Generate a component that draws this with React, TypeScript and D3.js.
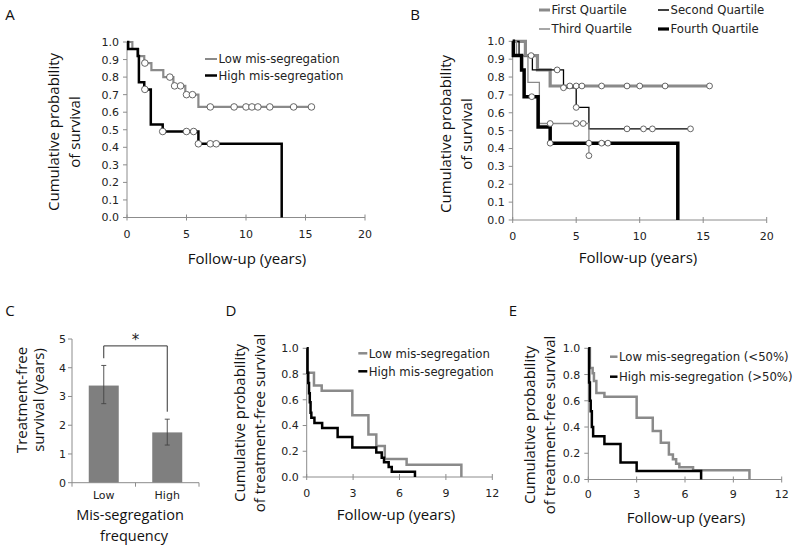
import React from 'react';
import * as d3 from 'd3';

// ---------- DATA ----------
// Panel A (overall survival by mis-segregation)
const aLowSteps = [[0, 1.0], [0.45, 0.96], [0.95, 0.92], [1.45, 0.88], [2.05, 0.84], [3.05, 0.80], [3.9, 0.75], [4.9, 0.70], [6.0, 0.63]];
const aLowEnd = 15.5;
const aLowCensor = [[1.5, 0.88], [3.6, 0.80], [4.0, 0.75], [4.5, 0.75], [5.0, 0.70], [5.5, 0.70], [7.0, 0.63], [9.0, 0.63], [10.0, 0.63], [10.5, 0.63], [11.0, 0.63], [12.0, 0.63], [14.0, 0.63], [15.5, 0.63]];
const aHighSteps = [[0, 1.0], [0.1, 0.96], [0.9, 0.92], [1.0, 0.77], [1.45, 0.73], [2.0, 0.53], [3.0, 0.49], [6.0, 0.42], [13.0, 0.0]];
const aHighEnd = 13.0;
const aHighCensor = [[1.5, 0.73], [3.0, 0.49], [5.0, 0.49], [5.6, 0.49], [6.0, 0.42], [7.0, 0.42], [7.5, 0.42]];
const aLegend = ['Low mis-segregation', 'High mis-segregation'];

// Panel B (quartiles)
const bQ1Steps = [[0, 1.0], [1.0, 0.92], [1.95, 0.84], [2.95, 0.75]];
const bQ1End = 15.5;
const bQ1Censor = [[4.5, 0.75], [5.0, 0.75], [5.45, 0.75], [7.0, 0.75], [9.0, 0.75], [10.0, 0.75], [12.0, 0.75], [15.5, 0.75]];
const bQ2Steps = [[0, 1.0], [0.5, 0.92], [1.55, 0.84], [4.0, 0.74], [5.0, 0.63], [6.0, 0.51]];
const bQ2End = 14.0;
const bQ2Censor = [[1.45, 0.92], [3.5, 0.84], [4.0, 0.74], [5.0, 0.63], [9.0, 0.51], [10.3, 0.51], [11.0, 0.51], [14.0, 0.51]];
const bQ3Steps = [[0, 1.0], [0.3, 0.92], [1.2, 0.77], [2.1, 0.54], [6.0, 0.36]];
const bQ3End = 6.0;
const bQ3Censor = [[2.95, 0.54], [5.0, 0.54], [5.55, 0.54], [6.0, 0.36]];
const bQ4Steps = [[0, 1.0], [0.05, 0.92], [0.7, 0.84], [0.9, 0.69], [2.0, 0.52], [2.95, 0.43], [13.0, 0.0]];
const bQ4End = 13.0;
const bQ4Censor = [[1.5, 0.69], [2.95, 0.43], [6.0, 0.43], [7.0, 0.43], [7.5, 0.43]];
const bLegend = ['First Quartile', 'Second Quartile', 'Third Quartile', 'Fourth Quartile'];

// Panel C (bar chart)
const cCategories = ['Low', 'High'];
const cValues = [3.38, 1.75];
const cErrLow = [2.75, 1.31];
const cErrHigh = [4.08, 2.21];
const cBracket = [4.33, 4.76, 2.47]; // left start, top, right end
const cTicks = [0, 1, 2, 3, 4, 5];

// Panel D (treatment-free survival)
const dLowSteps = [[0, 1.0], [0.05, 0.81], [0.47, 0.71], [0.97, 0.67], [2.95, 0.48], [3.99, 0.33], [4.5, 0.24], [5.05, 0.14], [6.46, 0.095], [10.0, 0.0]];
const dLowEnd = 10.0;
const dHighSteps = [[0, 1.0], [0.05, 0.81], [0.1, 0.73], [0.15, 0.65], [0.2, 0.58], [0.25, 0.5], [0.3, 0.46], [0.5, 0.42], [1.0, 0.38], [2.0, 0.31], [2.95, 0.23], [4.5, 0.19], [4.85, 0.15], [5.0, 0.115], [5.3, 0.077], [5.5, 0.04], [7.0, 0.0]];
const dHighEnd = 7.0;
const dLegend = ['Low mis-segregation', 'High mis-segregation'];

// Panel E (treatment-free survival, 50% cut)
const eLowSteps = [[0, 1.0], [0.1, 0.85], [0.27, 0.81], [0.35, 0.75], [0.5, 0.66], [1.0, 0.63], [3.0, 0.47], [4.0, 0.37], [4.5, 0.28], [5.0, 0.19], [5.25, 0.155], [5.45, 0.12], [5.65, 0.094], [6.5, 0.07], [10.0, 0.0]];
const eLowEnd = 10.0;
const eHighSteps = [[0, 1.0], [0.05, 0.74], [0.1, 0.6], [0.15, 0.52], [0.22, 0.4], [0.3, 0.33], [1.0, 0.27], [2.0, 0.13], [3.0, 0.065], [7.0, 0.0]];
const eHighEnd = 7.0;
const eLegend = ['Low mis-segregation (<50%)', 'High mis-segregation (>50%)'];

const ticksSurvA = [0, 0.1, 0.2, 0.3, 0.4, 0.5, 0.6, 0.7, 0.8, 0.9, 1.0];
const ticksYearsA = [0, 5, 10, 15, 20];
const ticksSurvD = [0, 0.2, 0.4, 0.6, 0.8, 1.0];
const ticksYearsD = [0, 3, 6, 9, 12];

// ---------- STYLE ----------
const TICK_FONT = "'DejaVu Sans', Verdana, sans-serif";
const TITLE_FONT = "'Open Sans', 'Noto Sans', sans-serif";
const GRAY = '#8a8a8a';
const AXIS = '#8c8c8c';
const TXT = '#222';

type Pt = number[];
type Series = { steps: Pt[]; end: number; censor?: Pt[]; color: string; width: number };

function stepPath(x: any, y: any, steps: Pt[], end: number) {
  let d = `M${x(steps[0][0])},${y(steps[0][1])}`;
  for (let i = 1; i < steps.length; i++) {
    d += `H${x(steps[i][0])}V${y(steps[i][1])}`;
  }
  d += `H${x(end)}`;
  return d;
}

function KMPanel(props: {
  xr: number[]; yr: number[]; xTicks: number[]; yTicks: number[];
  series: Series[]; r: number; xLabelDy: number;
}) {
  const { xr, yr, xTicks, yTicks, series, r, xLabelDy } = props;
  const x = d3.scaleLinear().domain([xTicks[0], xTicks[xTicks.length - 1]]).range(xr);
  const y = d3.scaleLinear().domain([0, 1]).range(yr);
  const fmt = d3.format('.1f');
  return (
    <g>
      <line x1={x(xTicks[0])} x2={x(xTicks[0])} y1={y(0)} y2={y(1)} stroke={AXIS} strokeWidth={1} />
      <line x1={x(xTicks[0])} x2={x(xTicks[xTicks.length - 1])} y1={y(0)} y2={y(0)} stroke={AXIS} strokeWidth={1} />
      {yTicks.map((t) => (
        <g key={'y' + t}>
          <line x1={x(xTicks[0]) - 4} x2={x(xTicks[0])} y1={y(t)} y2={y(t)} stroke={AXIS} />
          <text x={x(xTicks[0]) - 8} y={y(t)} dy="0.36em" textAnchor="end" fontFamily={TICK_FONT} fontSize={11} fill={TXT}>{fmt(t)}</text>
        </g>
      ))}
      {xTicks.map((t) => (
        <g key={'x' + t}>
          <line x1={x(t)} x2={x(t)} y1={y(0) - 3} y2={y(0) + 3} stroke={AXIS} />
          <text x={x(t)} y={y(0) + xLabelDy} textAnchor="middle" fontFamily={TICK_FONT} fontSize={11} fill={TXT}>{t}</text>
        </g>
      ))}
      {series.map((s, i) => (
        <path key={'p' + i} d={stepPath(x, y, s.steps, s.end)} fill="none" stroke={s.color} strokeWidth={s.width} strokeLinejoin="miter" strokeLinecap="butt" />
      ))}
      {series.map((s, i) => (s.censor || []).map((c, j) => (
        <circle key={'c' + i + '-' + j} cx={x(c[0])} cy={y(c[1])} r={r} fill="#fff" stroke="#555" strokeWidth={0.9} />
      )))}
    </g>
  );
}

function Legend(props: { x: number; y: number; dy: number; items: string[]; colors: string[]; widths: number[]; len: number }) {
  const { x, y, dy, items, colors, widths, len } = props;
  return (
    <g>
      {items.map((it, i) => (
        <g key={it}>
          <line x1={x} x2={x + len} y1={y + i * dy} y2={y + i * dy} stroke={colors[i]} strokeWidth={widths[i]} />
          <text x={x + len + 1.5} y={y + i * dy} dy="0.36em" fontFamily={TICK_FONT} fontSize={11.7} fill={TXT}>{it}</text>
        </g>
      ))}
    </g>
  );
}

function YTitle(props: { x: number; y: number; lines: string[]; gap: number; size?: number }) {
  const { x, y, lines, gap, size = 15 } = props;
  return (
    <g>
      {lines.map((l, i) => (
        <text key={l} transform={`translate(${x + i * gap},${y}) rotate(-90)`} textAnchor="middle" fontFamily={TITLE_FONT} fontSize={size} fill="#111">{l}</text>
      ))}
    </g>
  );
}

function Title(props: { x: number; y: number; text: string; size?: number }) {
  return <text x={props.x} y={props.y} textAnchor="middle" fontFamily={TITLE_FONT} fontSize={props.size || 15} fill="#111">{props.text}</text>;
}

function BarPanel() {
  const x = d3.scaleBand().domain(cCategories).range([72, 199]).paddingInner(0).paddingOuter(0);
  const y = d3.scaleLinear().domain([0, 5]).range([482.7, 339]);
  const bw = 30;
  const cx = (c: string) => (x(c) as number) + x.bandwidth() / 2;
  const xl = cx(cCategories[0]);
  const xh = cx(cCategories[1]);
  return (
    <g>
      {cCategories.map((c, i) => (
        <rect key={c} x={cx(c) - bw / 2} y={y(cValues[i])} width={bw} height={y(0) - y(cValues[i])} fill="#7f7f7f" />
      ))}
      {cCategories.map((c, i) => (
        <g key={'e' + c} stroke="#444" strokeWidth={0.9}>
          <line x1={cx(c)} x2={cx(c)} y1={y(cErrLow[i])} y2={y(cErrHigh[i])} />
          <line x1={cx(c) - 2.5} x2={cx(c) + 2.5} y1={y(cErrLow[i])} y2={y(cErrLow[i])} />
          <line x1={cx(c) - 2.5} x2={cx(c) + 2.5} y1={y(cErrHigh[i])} y2={y(cErrHigh[i])} />
        </g>
      ))}
      <path d={`M${xl},${y(cBracket[0])}V${y(cBracket[1])}H${xh}V${y(cBracket[2])}`} fill="none" stroke="#333" strokeWidth={1} />
      <text x={(xl + xh) / 2} y={y(cBracket[1]) - 1} textAnchor="middle" fontFamily={TICK_FONT} fontSize={15} fill="#222">*</text>
      <line x1={72} x2={72} y1={y(0)} y2={y(5)} stroke={AXIS} />
      <line x1={72} x2={199} y1={y(0)} y2={y(0)} stroke={AXIS} />
      {cTicks.map((t) => (
        <g key={t}>
          <line x1={68} x2={72} y1={y(t)} y2={y(t)} stroke={AXIS} />
          <text x={66} y={y(t)} dy="0.36em" textAnchor="end" fontFamily={TICK_FONT} fontSize={11} fill={TXT}>{t}</text>
        </g>
      ))}
      {[72, 72 + x.bandwidth(), 199].map((t) => (
        <line key={t} x1={t} x2={t} y1={y(0)} y2={y(0) + 4} stroke={AXIS} />
      ))}
      {cCategories.map((c) => (
        <text key={'l' + c} x={cx(c)} y={y(0) + 16.5} textAnchor="middle" fontFamily={TICK_FONT} fontSize={11} fill={TXT}>{c}</text>
      ))}
    </g>
  );
}

export default function App() {
  return (
    <svg width={800} height={551} viewBox="0 0 800 551" style={{ position: 'absolute', left: 0, top: 0, background: '#fff' }}>
      <rect width={800} height={551} fill="#fff" />
      {/* Panel letters */}
      {[['A', 10, 20], ['B', 415, 20], ['C', 10, 316], ['D', 231, 316], ['E', 513, 316]].map((p) => (
        <text key={p[0] as string} x={p[1] as number} y={p[2] as number} textAnchor="middle" fontFamily={TITLE_FONT} fontSize={15} fill="#111">{p[0]}</text>
      ))}

      {/* Panel A */}
      <KMPanel xr={[127, 365]} yr={[217.5, 42]} xTicks={ticksYearsA} yTicks={ticksSurvA} r={3.3} xLabelDy={20}
        series={[
          { steps: aLowSteps, end: aLowEnd, censor: aLowCensor, color: GRAY, width: 2.2 },
          { steps: aHighSteps, end: aHighEnd, censor: aHighCensor, color: '#000', width: 2.5 },
        ]} />
      <Legend x={205} y={59} dy={16.5} items={aLegend} colors={[GRAY, '#000']} widths={[2, 2.5]} len={12} />
      <YTitle x={58.5} y={132} lines={['Cumulative probability', 'of survival']} gap={21} />
      <Title x={247} y={264} text="Follow-up (years)" />

      {/* Panel B */}
      <KMPanel xr={[512.7, 766.7]} yr={[220, 41.3]} xTicks={ticksYearsA} yTicks={ticksSurvA} r={2.9} xLabelDy={20}
        series={[
          { steps: bQ1Steps, end: bQ1End, censor: bQ1Censor, color: GRAY, width: 3.2 },
          { steps: bQ2Steps, end: bQ2End, censor: bQ2Censor, color: '#000', width: 1.3 },
          { steps: bQ3Steps, end: bQ3End, censor: bQ3Censor, color: GRAY, width: 1.3 },
          { steps: bQ4Steps, end: bQ4End, censor: bQ4Censor, color: '#000', width: 3.5 },
        ]} />
      <Legend x={539} y={10} dy={19} items={[bLegend[0], bLegend[2]]} colors={[GRAY, GRAY]} widths={[3, 1.5]} len={11} />
      <Legend x={658} y={10} dy={19} items={[bLegend[1], bLegend[3]]} colors={['#000', '#000']} widths={[1.5, 3.2]} len={11} />
      <YTitle x={450.5} y={134} lines={['Cumulative probability', 'of survival']} gap={21} />
      <Title x={638} y={263} text="Follow-up (years)" />

      {/* Panel C */}
      <BarPanel />
      <YTitle x={27} y={400} lines={['Treatment-free', 'survival (years)']} gap={16.5} />
      <Title x={130} y={520} text="Mis-segregation" size={14.5} />
      <Title x={134} y={540.5} text="frequency" size={14.5} />

      {/* Panel D */}
      <KMPanel xr={[306.7, 492.3]} yr={[477, 348.3]} xTicks={ticksYearsD} yTicks={ticksSurvD} r={3} xLabelDy={19.5}
        series={[
          { steps: dLowSteps, end: dLowEnd, color: GRAY, width: 2.5 },
          { steps: dHighSteps, end: dHighEnd, color: '#000', width: 2.5 },
        ]} />
      <Legend x={358.3} y={353.3} dy={18} items={dLegend} colors={[GRAY, '#000']} widths={[2.5, 2.5]} len={9} />
      <YTitle x={245} y={423} lines={['Cumulative probability', 'of treatment-free survival']} gap={20} />
      <Title x={396} y={520} text="Follow-up (years)" />

      {/* Panel E */}
      <KMPanel xr={[588.3, 781.7]} yr={[479.5, 348.3]} xTicks={ticksYearsD} yTicks={ticksSurvD} r={3} xLabelDy={18.5}
        series={[
          { steps: eLowSteps, end: eLowEnd, color: GRAY, width: 2.5 },
          { steps: eHighSteps, end: eHighEnd, color: '#000', width: 2.5 },
        ]} />
      <Legend x={610} y={356.7} dy={20} items={eLegend} colors={[GRAY, '#000']} widths={[2.5, 2.5]} len={7.5} />
      <YTitle x={535} y={425} lines={['Cumulative probability', 'of treatment-free survival']} gap={20} />
      <Title x={686} y={522.5} text="Follow-up (years)" />
    </svg>
  );
}
